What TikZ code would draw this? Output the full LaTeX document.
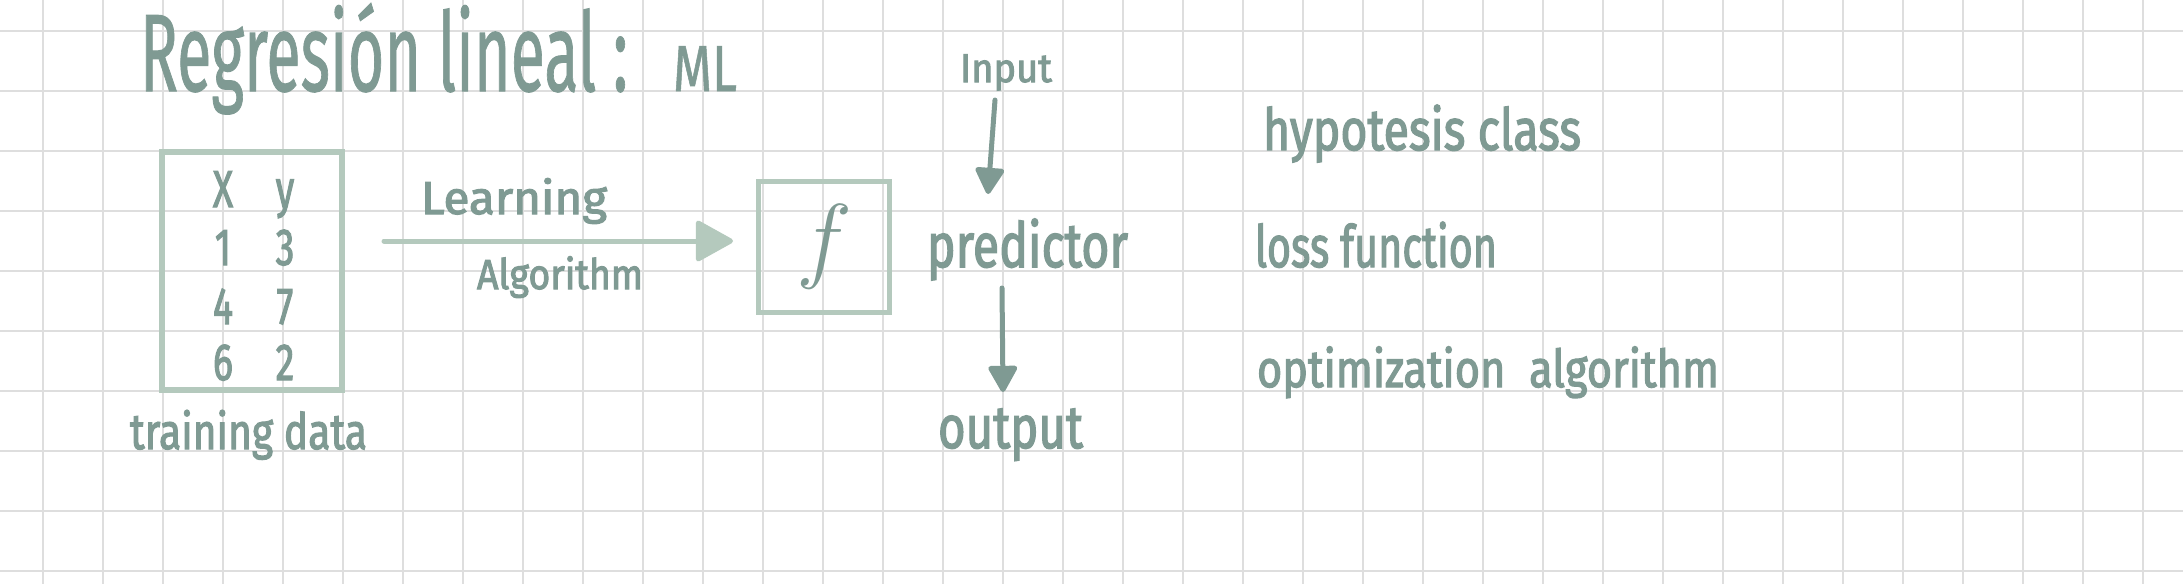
\RequirePackage{fix-cm}
\documentclass[tikz,border=0pt]{standalone}
\usepackage{fontspec}
\setmainfont{Fira Sans}
\newfontfamily\hwfont{Fira Sans}[FakeBold=2.5]
\newfontfamily\hwtitlefont{Fira Sans}[FakeBold=1]
\usepackage{graphicx}
\usetikzlibrary{arrows.meta}
\definecolor{ink}{HTML}{7F9A93}
\definecolor{pale}{HTML}{B4C9BD}
\definecolor{gridc}{HTML}{DEDEDE}
\newcommand\hwtext[3]{\fontsize{#1}{#1}\selectfont\hwfont\resizebox{#2pt}{\height}{#3}}
\newcommand\hwtitle[3]{\fontsize{#1}{#1}\selectfont\hwtitlefont\resizebox{#2pt}{\height}{#3}}
\newcommand\celltext[1]{\fontsize{52}{52}\selectfont\hwfont\scalebox{0.72}[1]{#1}}
\tikzset{
  gridline/.style={draw=gridc, line width=2pt},
  hw/.style={inner sep=0pt, outer sep=0pt, anchor=base west, text=ink},
  cell/.style={inner sep=0pt, outer sep=0pt, anchor=base, text=ink},
  palebox/.style={draw=pale, line width=6pt, inner sep=0pt},
  palearrow/.style={draw=pale, line width=5pt, line cap=round,
    -{Triangle[length=40pt,width=43pt,round]}},
  inkarrow/.style={draw=ink, line width=5pt, line cap=round,
    -{Triangle[length=29pt,width=31pt,round]}},
}
\begin{document}
\begin{tikzpicture}[x=1pt,y=-1pt]
\useasboundingbox[fill=white] (0,0) rectangle (2183,584);
% grid
\foreach \i in {0,...,35} \draw[gridline] ({43+60*\i},0) -- ({43+60*\i},584);
\foreach \j in {0,...,9} \draw[gridline] (0,{31+60*\j}) -- (2183,{31+60*\j});
% title
\node[hw] (title) at (140,91) {\hwtitle{110}{488}{Regresión lineal :}};
\node[hw] (ml) at (673,91) {\hwtitle{65}{64}{ML}};
% training data table
\node[palebox, minimum width=180.5pt, minimum height=238pt] (tbl) at (251.75,271) {};
\node[cell] (hx) at (223,207) {\celltext{X}};
\node[cell] (hy) at (285,207) {\celltext{y}};
\node[cell] (a1) at (223,265) {\celltext{1}};
\node[cell] (b1) at (285,265) {\celltext{3}};
\node[cell] (a2) at (223,324) {\celltext{4}};
\node[cell] (b2) at (285,324) {\celltext{7}};
\node[cell] (a3) at (223,380) {\celltext{6}};
\node[cell] (b3) at (285,380) {\celltext{2}};
\node[hw] (training) at (130,449) {\hwtext{50}{237}{training data}};
% learning algorithm arrow
\node[hw] (learning) at (421,214) {\hwtext{46}{186}{Learning}};
\node[hw] (algorithm) at (477,289) {\hwtext{42}{166}{Algorithm}};
\node[palebox, draw=pale, line width=5pt, minimum width=131pt, minimum height=131pt, text=ink] (fbox) at (824,246.5) {\fontsize{95}{95}\selectfont$f$};
\coordinate (la) at (384,241);
\draw[palearrow, shorten >=23pt] (la) -- (fbox.west |- la);
% predictor
\node[hw] (input) at (960,82) {\hwtext{40}{92}{Input}};
\node[hw] (predictor) at (927,267) {\hwtext{62}{201}{predictor}};
\node[hw] (output) at (938,448) {\hwtext{60}{145}{output}};
\coordinate (inA) at (995,100);
\coordinate (inB) at (988,194);
\coordinate (outA) at (1002,288);
\coordinate (outB) at (1003,392);
\draw[inkarrow] (inA) -- (inB);
\draw[inkarrow] (outA) -- (outB);
% components
\node[hw] (hyp) at (1263,150) {\hwtext{58}{318}{hypotesis class}};
\node[hw] (loss) at (1255,267) {\hwtext{58}{242}{loss function}};
\node[hw] (opt) at (1257,387) {\hwtext{52}{462}{optimization\hspace{0.55em}algorithm}};
\end{tikzpicture}
\end{document}
